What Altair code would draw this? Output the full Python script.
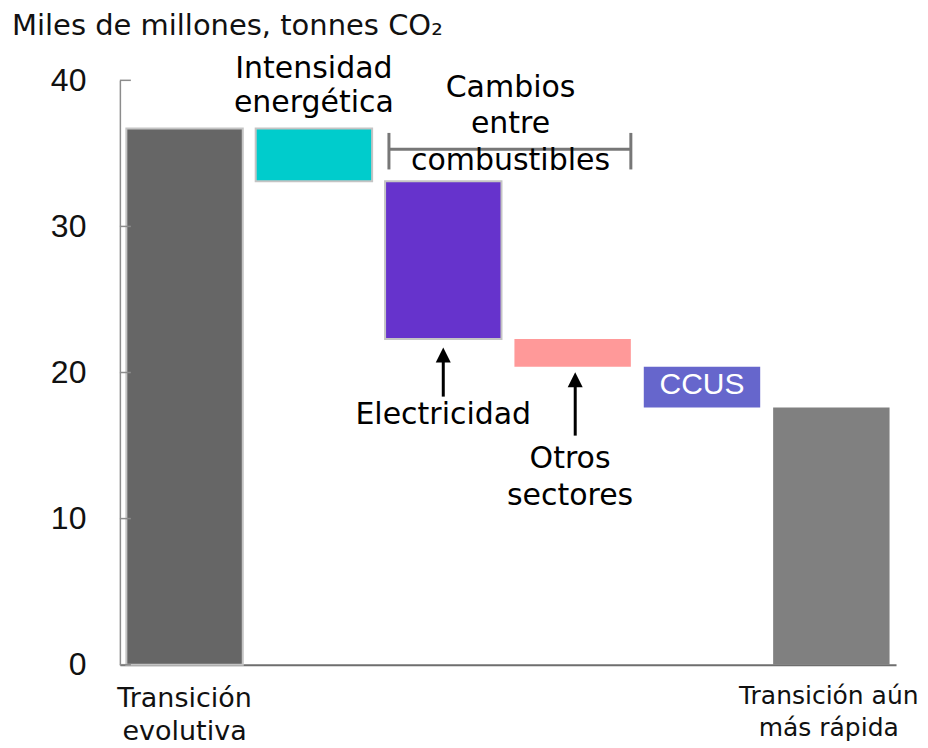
import altair as alt
import pandas as pd

# ---------------- data ----------------
categories = ["Transición evolutiva", "Intensidad energética", "Electricidad",
              "Otros sectores", "CCUS", "Transición aún más rápida"]
start_value = 36.7
changes = [-3.6, -10.8, -1.9, -2.8]
end_value = 17.6
bar_colors = ["#666666", "#00CCCC", "#6633CC", "#FF9999", "#6666CC", "#808080"]
y_ticks = [0, 10, 20, 30, 40]

# build waterfall table
lo, hi = [0.0], [start_value]
level = start_value
for c in changes:
    new = level + c
    lo.append(min(level, new))
    hi.append(max(level, new))
    level = new
lo.append(0.0)
hi.append(end_value)
idx = list(range(len(categories)))
bars = pd.DataFrame({"cat": categories, "idx": idx, "lo": lo, "hi": hi})
bars["x0"] = bars["idx"] - 0.45
bars["x1"] = bars["idx"] + 0.45

xscale = alt.Scale(domain=[-0.5, 5.5], nice=False, zero=False)
yscale = alt.Scale(domain=[0, 40], nice=False)

FONT = "DejaVu Sans"

bar_layer = alt.Chart(bars).mark_rect(stroke="#c4c4c4").encode(
    x=alt.X("x0:Q", scale=xscale,
            axis=alt.Axis(labels=False, ticks=False, grid=False, title=None,
                          domainColor="#6e6e6e", domainWidth=2)),
    x2="x1:Q",
    y=alt.Y("lo:Q", scale=yscale,
            axis=alt.Axis(values=y_ticks, grid=False, title=None, ticks=False, tickSize=0,
                          labelPadding=34, labelFont="Liberation Sans", labelFontSize=32,
                          labelColor="#111111", domainColor="#8c8c8c", domainWidth=1.5)),
    y2="hi:Q",
    color=alt.Color("cat:N", scale=alt.Scale(domain=categories, range=bar_colors), legend=None),
    strokeWidth=alt.condition("datum.idx < 3", alt.value(2), alt.value(0)),
)

# inward y ticks
ticks_df = pd.DataFrame({"v": y_ticks})
tick_layer = alt.Chart(ticks_df).mark_rule(color="#8c8c8c", strokeWidth=1.5).encode(
    y=alt.Y("v:Q", scale=yscale), x=alt.value(0), x2=alt.value(11)
)

# bracket for "Cambios entre combustibles"
br_df = pd.DataFrame({"a": [1.58], "b": [3.45], "yc": [35.28], "ylo": [33.9], "yhi": [36.4]})
br_h = alt.Chart(br_df).mark_rule(color="#777777", strokeWidth=3).encode(
    x=alt.X("a:Q", scale=xscale), x2="b:Q", y=alt.Y("yc:Q", scale=yscale)
)
br_l = alt.Chart(br_df).mark_rule(color="#777777", strokeWidth=3).encode(
    x=alt.X("a:Q", scale=xscale), y=alt.Y("ylo:Q", scale=yscale), y2="yhi:Q"
)
br_r = alt.Chart(br_df).mark_rule(color="#777777", strokeWidth=3).encode(
    x=alt.X("b:Q", scale=xscale), y=alt.Y("ylo:Q", scale=yscale), y2="yhi:Q"
)

# arrows
arr_df = pd.DataFrame({"x": [2.0, 3.02], "y0": [18.35, 15.68], "y1": [21.0, 19.3], "yh": [21.2, 19.5]})
arr_shaft = alt.Chart(arr_df).mark_rule(color="black", strokeWidth=3).encode(
    x=alt.X("x:Q", scale=xscale), y=alt.Y("y0:Q", scale=yscale), y2="y1:Q"
)
arr_head = alt.Chart(arr_df).mark_point(shape="M0,-1L-1,1L1,1Z", filled=True, opacity=1,
                                         color="black", size=225).encode(
    x=alt.X("x:Q", scale=xscale), y=alt.Y("yh:Q", scale=yscale)
)

# annotations
def ann(text, x, y, lh=36.5, color="black", font=FONT, size=30):
    df = pd.DataFrame({"t": [text], "x": [x], "y": [y]})
    return alt.Chart(df).mark_text(font=font, fontSize=size, color=color, align="center",
                                   baseline="alphabetic", lineBreak="\n", lineHeight=lh).encode(
        x=alt.X("x:Q", scale=xscale), y=alt.Y("y:Q", scale=yscale), text="t:N"
    )

a1 = ann("Intensidad\nenergética", 1, 40.14, lh=34)
a2 = ann("Cambios\nentre\ncombustibles", 2.52, 38.86, lh=36.5)
a3 = ann("Electricidad", 2.0, 16.5)
a4 = ann("Otros\nsectores", 2.98, 13.49, lh=37)
a5 = ann("CCUS", 4.0, 18.5, color="white", font="Liberation Sans", size=30)

# x labels
def xlab(text, x, ypx, size, lh):
    df = pd.DataFrame({"t": [text], "x": [x]})
    return alt.Chart(df).mark_text(font=FONT, fontSize=size, color="#111111", align="center",
                                   baseline="alphabetic", lineBreak="\n", lineHeight=lh).encode(
        x=alt.X("x:Q", scale=xscale), y=alt.value(ypx), text="t:N"
    )

xl1 = xlab("Transición\nevolutiva", 0, 627, 27, 33)
xl2 = xlab("Transición aún\nmás rápida", 4.98, 624, 25, 32)

# title
title_df = pd.DataFrame({"t": ["Miles de millones, tonnes CO₂"]})
title = alt.Chart(title_df).mark_text(font=FONT, fontSize=29, color="#111111", align="left",
                                      baseline="alphabetic").encode(
    x=alt.value(-108), y=alt.value(-45), text="t:N"
)

chart = alt.layer(
    bar_layer, tick_layer, br_h, br_l, br_r, arr_shaft, arr_head,
    a1, a2, a3, a4, a5, xl1, xl2, title
).properties(
    width=777, height=585,
    padding={"left": 112, "top": 72, "right": 24, "bottom": 88},
    autosize=alt.AutoSizeParams(type="none"),
).configure_view(stroke=None)

chart.save("out.html", embed_options={"renderer": "svg", "actions": False})
